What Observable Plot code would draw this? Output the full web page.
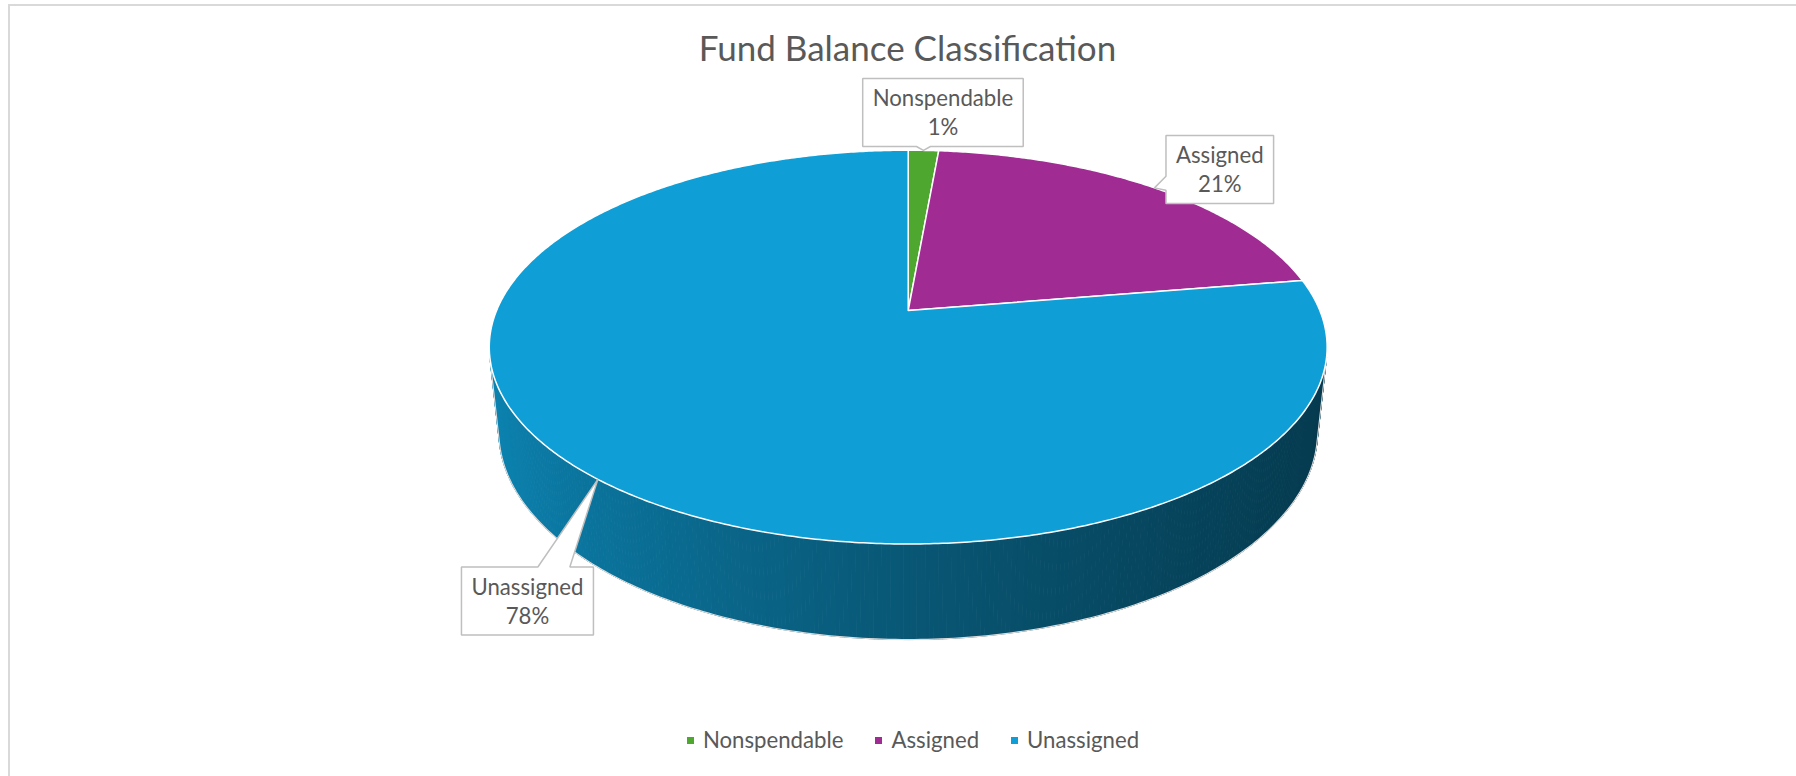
<!DOCTYPE html>
<html><head><meta charset="utf-8">
<script src="https://cdn.jsdelivr.net/npm/d3@7"></script>
<script src="https://cdn.jsdelivr.net/npm/@observablehq/plot@0.6"></script>
<style>
html,body{margin:0;padding:0;background:#fff;width:1796px;height:776px;overflow:hidden;position:relative;}
#frame{position:absolute;left:8px;top:4px;width:1800px;height:800px;border-left:2px solid #d9d9d9;border-top:2px solid #d9d9d9;box-sizing:border-box;z-index:5;pointer-events:none;background:transparent;}
#title{position:absolute;left:0;top:27px;width:1815px;text-align:center;font-family:Lato,sans-serif;font-size:35px;line-height:40px;color:#595959;white-space:nowrap;}
#chart{position:absolute;left:0;top:76px;}
#legend{position:absolute;left:0;top:728px;width:1826px;display:flex;justify-content:center;align-items:center;font-family:Lato,sans-serif;font-size:22.2px;line-height:24px;color:#595959;}
.item{display:flex;align-items:center;margin:0 16px;white-space:nowrap;}
.sw{width:7px;height:7px;margin-right:9px;}
</style></head><body>
<div id="frame"></div>
<div id="title">Fund Balance Classification</div>
<div id="chart"></div>
<div id="legend"></div>
<script>
// ---- data ----
const categories = ["Nonspendable", "Assigned", "Unassigned"];
const shares = [1.4, 21.0, 77.6];           // percent of fund balance
// ---- styles ----
const colors = ["#4EA72E", "#A02B93", "#0F9ED5"];
const textColor = "#595959";
const labelFont = 22.2, labelLH = 1.31;
// label box offsets from the callout tip (layout)
const labelOffsets = {Nonspendable: [19.5, -37.9], Assigned: [65.3, -18.3], Unassigned: [-70.4, 121.6]};

// ---- 3D perspective geometry (layout) ----
const W = 1796, Hsvg = 630, apexX = 907.7, apexY = 234;
const alpha = 27.5 * Math.PI / 180, s = Math.sin(alpha), c = Math.cos(alpha);
const L = 4.769, f = 1963, T = 0.2334;
const Hc = L * s, Dc = L * c;
function proj3(X, Y, Z) {
  const depth = -(Y - Hc) * s + (Z + Dc) * c;
  const up = (Y - Hc) * c + (Z + Dc) * s;
  return [f * X / depth, -f * up / depth];
}
const proj = (th, Y) => proj3(Math.sin(th), Y, Math.cos(th));

const total = d3.sum(shares);
let cum = 0;
const slices = categories.map((cat, i) => {
  const a0 = cum / total * 2 * Math.PI;
  cum += shares[i];
  const a1 = cum / total * 2 * Math.PI;
  return {cat, value: shares[i], color: colors[i], a0, a1};
});

// top face polygons
const topRows = [];
slices.forEach((sl, i) => {
  const [ax, ay] = proj3(0, 0, 0);
  topRows.push({id: i, x: ax, y: ay, fill: sl.color});
  const n = Math.max(2, Math.ceil((sl.a1 - sl.a0) / (0.5 * Math.PI / 180)));
  for (let k = 0; k <= n; k++) {
    const th = sl.a0 + (sl.a1 - sl.a0) * k / n;
    const [x, y] = proj(th, 0);
    topRows.push({id: i, x, y, fill: sl.color});
  }
});

// side wall strips (only the visible, camera-facing part)
const thV0 = Math.acos(-1 / Dc), thV1 = 2 * Math.PI - thV0;
function shade(col, th) {
  const u = Math.sin(th);
  const b = 0.55 - 0.237 * u + 0.053 * u * u;
  const r = d3.rgb(col);
  return d3.rgb(r.r * b, r.g * b, r.b * b).formatHex();
}
const sideRows = [];
let sid = 0;
slices.forEach(sl => {
  const lo = Math.max(sl.a0, thV0), hi = Math.min(sl.a1, thV1);
  if (lo >= hi) return;
  const n = Math.ceil((hi - lo) / (0.5 * Math.PI / 180));
  for (let k = 0; k < n; k++) {
    const t0 = lo + (hi - lo) * k / n, t1 = lo + (hi - lo) * (k + 1) / n;
    const col = shade(sl.color, (t0 + t1) / 2);
    for (const [th, Y] of [[t0, 0], [t1, 0], [t1, -T], [t0, -T]]) {
      const [x, y] = proj(th, Y);
      sideRows.push({id: sid, x, y, fill: col});
    }
    sid++;
  }
});
const outlineRows = [];
{
  const n = 200;
  outlineRows.push(proj(thV0, 0));
  for (let k = 0; k <= n; k++) outlineRows.push(proj(thV0 + (thV1 - thV0) * k / n, -T));
  outlineRows.push(proj(thV1, 0));
}

// labels with callouts
const ctx = document.createElement("canvas").getContext("2d");
ctx.font = `${labelFont}px Lato`;
const boxRows = [], textRows = [];
slices.forEach((sl, i) => {
  const mid = (sl.a0 + sl.a1) / 2;
  const [tx, ty] = proj(mid, 0);
  const pct = Math.round(sl.value / total * 100) + "%";
  const w = Math.max(ctx.measureText(sl.cat).width, ctx.measureText(pct).width) + 20;
  const h = 68;
  const [ox, oy] = labelOffsets[sl.cat];
  const cx = tx + ox, cy = ty + oy;
  const x0 = cx - w / 2, x1 = cx + w / 2, y0 = cy - h / 2, y1 = cy + h / 2;
  const ex = {top: y0 - ty, bottom: ty - y1, left: x0 - tx, right: tx - x1};
  const side = Object.keys(ex).reduce((a, b) => ex[a] >= ex[b] ? a : b);
  const dist = Math.max(0, ex[side]);
  const hw = Math.min(16, Math.max(7, dist * 0.6));
  const pts = [];
  const ptr = (along, lo, hi, mk) => {
    const len = hi - lo, m = Math.max(hw + 2, 0.3 * len);
    const cc = Math.min(Math.max(along, lo + m), hi - m);
    return mk(cc);
  };
  pts.push([x0, y0]);
  if (side === "top") ptr(tx, x0, x1, cc => pts.push([cc - hw, y0], [tx, ty], [cc + hw, y0]));
  pts.push([x1, y0]);
  if (side === "right") ptr(ty, y0, y1, cc => pts.push([x1, cc - hw], [tx, ty], [x1, cc + hw]));
  pts.push([x1, y1]);
  if (side === "bottom") ptr(tx, x0, x1, cc => pts.push([cc + hw, y1], [tx, ty], [cc - hw, y1]));
  pts.push([x0, y1]);
  if (side === "left") ptr(ty, y0, y1, cc => pts.push([x0, cc + hw], [tx, ty], [x0, cc - hw]));
  pts.forEach(([x, y]) => boxRows.push({id: i, x, y}));
  textRows.push({x: cx, y: cy - 1, text: sl.cat + "\n" + pct});
});

const chart = Plot.plot({
  width: W, height: Hsvg,
  margin: 0,
  x: {domain: [-apexX, W - apexX], range: [0, W], axis: null},
  y: {domain: [-apexY, Hsvg - apexY], range: [0, Hsvg], axis: null},
  color: {type: "identity"},
  style: {background: "transparent", fontFamily: "Lato, sans-serif", overflow: "visible"},
  marks: [
    Plot.line(sideRows, {x: "x", y: "y", z: "id", fill: "fill", stroke: "fill", strokeWidth: 1, curve: "linear-closed"}),
    Plot.line(outlineRows, {x: d => d[0], y: d => d[1], stroke: "#dcdcdc", strokeWidth: 1.2, fill: "none"}),
    Plot.line(topRows, {x: "x", y: "y", z: "id", fill: "fill", stroke: "white", strokeWidth: 1.5, curve: "linear-closed", strokeLinejoin: "round"}),
    Plot.line(boxRows, {x: "x", y: "y", z: "id", fill: "white", stroke: "#bfbfbf", strokeWidth: 1.5, curve: "linear-closed", strokeLinejoin: "miter"}),
    Plot.text(textRows, {x: "x", y: "y", text: "text", fontSize: labelFont, lineHeight: labelLH, fill: textColor, fontFamily: "Lato, sans-serif"})
  ]
});
document.getElementById("chart").appendChild(chart);

// legend
const legend = document.getElementById("legend");
categories.forEach((cat, i) => {
  const it = document.createElement("div");
  it.className = "item";
  const sw = document.createElement("span");
  sw.className = "sw";
  sw.style.background = colors[i];
  const lab = document.createElement("span");
  lab.textContent = cat;
  it.append(sw, lab);
  legend.append(it);
});
</script>
</body></html>
